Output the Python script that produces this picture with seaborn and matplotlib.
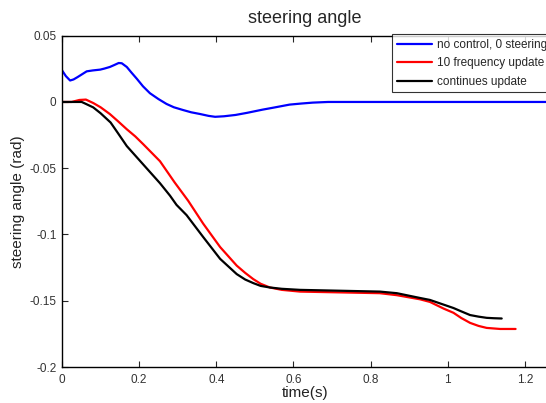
import pandas as pd
import matplotlib
matplotlib.use("Agg")
import matplotlib.pyplot as plt
import seaborn as sns

# Data

t_blue = [0, 0.01, 0.021, 0.03, 0.04, 0.064, 0.08, 0.099, 0.11, 0.124, 0.135, 0.147, 0.155,
          0.168, 0.18, 0.194, 0.21, 0.228, 0.25, 0.271, 0.29, 0.314, 0.335, 0.358, 0.38,
          0.397, 0.42, 0.45, 0.48, 0.52, 0.55, 0.59, 0.62, 0.65, 0.69, 0.8, 1.0, 1.2, 1.4]
blue = [0.0239, 0.0195, 0.0162, 0.017, 0.0187, 0.0231, 0.0238, 0.0244, 0.0252, 0.0264, 0.0278,
        0.0294, 0.0292, 0.0264, 0.0222, 0.0175, 0.0118, 0.0066, 0.0022, -0.0015, -0.004,
        -0.0061, -0.0078, -0.0091, -0.0105, -0.0112, -0.0108, -0.0098, -0.0082, -0.0058, -0.0042,
        -0.002, -0.0012, -0.0005, 0.0, 0.0, 0.0, 0.0, 0.0]

t_red = [0, 0.025, 0.045, 0.062, 0.081, 0.1, 0.124, 0.145, 0.168, 0.19, 0.211, 0.254, 0.292,
         0.327, 0.366, 0.41, 0.453, 0.475, 0.496, 0.515, 0.539, 0.57, 0.617, 0.824, 0.868,
         0.928, 0.954, 0.99, 1.015, 1.035, 1.058, 1.08, 1.101, 1.136, 1.176]
red = [0, 0.0, 0.0015, 0.0018, -0.0008, -0.004, -0.0091, -0.0145, -0.0206, -0.026, -0.032,
       -0.0447, -0.0607, -0.0745, -0.0918, -0.1095, -0.1235, -0.129, -0.1337, -0.1372, -0.14,
       -0.1418, -0.1431, -0.1443, -0.1458, -0.1489, -0.1509, -0.156, -0.1591, -0.163, -0.1667,
       -0.169, -0.1705, -0.1713, -0.1713]

t_black = [0, 0.04, 0.051, 0.06, 0.081, 0.1, 0.126, 0.145, 0.168, 0.211, 0.254, 0.28, 0.297,
           0.323, 0.366, 0.41, 0.453, 0.475, 0.496, 0.515, 0.539, 0.57, 0.617, 0.824, 0.868,
           0.928, 0.954, 0.98, 1.015, 1.035, 1.058, 1.08, 1.101, 1.12, 1.14]
black = [0, 0, 0, -0.0012, -0.0041, -0.0085, -0.0155, -0.0235, -0.0333, -0.0473, -0.0613,
         -0.0707, -0.0777, -0.0854, -0.1019, -0.1184, -0.1299, -0.134, -0.1367, -0.1388, -0.14,
         -0.141, -0.1418, -0.1431, -0.1443, -0.1479, -0.1494, -0.152, -0.1555, -0.158, -0.1608,
         -0.162, -0.1629, -0.1632, -0.1634]

labels = ["no control, 0 steering", "10 frequency update", "continues update"]
colors = ["#0000ff", "#ff0000", "#000000"]

x_ticks = [0, 0.2, 0.4, 0.6, 0.8, 1, 1.2]
x_tick_labels = ["0", "0.2", "0.4", "0.6", "0.8", "1", "1.2"]
y_ticks = [0.05, 0, -0.05, -0.1, -0.15, -0.2]
y_tick_labels = ["0.05", "0", "-0.05", "-0.1", "-0.15", "-0.2"]

df = pd.concat([
    pd.DataFrame({"time": t_blue, "angle": blue, "series": labels[0]}),
    pd.DataFrame({"time": t_red, "angle": red, "series": labels[1]}),
    pd.DataFrame({"time": t_black, "angle": black, "series": labels[2]}),
])

sns.set_style("ticks")
plt.rcParams['font.family'] = ['Liberation Sans', 'DejaVu Sans']

W, H = 546, 403
fig = plt.figure(figsize=(W / 100, H / 100), dpi=100)
# axes reach the right edge of the image, as in the reference
x0, x1 = 62, 548
y0, y1 = 35.7, 367
ax = fig.add_axes([x0 / W, 1 - y1 / H, (x1 - x0) / W, (y1 - y0) / H])

sns.lineplot(data=df, x="time", y="angle", hue="series", palette=colors,
             hue_order=labels, sort=False, estimator=None, linewidth=1.6,
             legend=False, ax=ax)

ax.set_xlim(0, (x1 - x0) / 385.7)
ax.set_ylim(-0.2, 0.05)
ax.set_xticks(x_ticks)
ax.set_xticklabels(x_tick_labels)
ax.set_yticks(y_ticks)
ax.set_yticklabels(y_tick_labels)
ax.tick_params(direction="in", length=4, width=0.8, labelsize=8.5,
               labelcolor="#333333", top=True, right=False)
ax.tick_params(axis="x", pad=5)
ax.tick_params(axis="y", pad=4)
for sp in ax.spines.values():
    sp.set_linewidth(1.0)
    sp.set_color("black")

ax.set_title("steering angle", fontsize=13, pad=9)
ax.set_xlabel("time(s)", fontsize=11, color="#222222", labelpad=0)
ax.set_ylabel("steering angle (rad)", fontsize=11, color="#222222", labelpad=3)

leg = ax.legend(ax.lines, labels, loc="upper left",
                bbox_to_anchor=(392 / W, 1 - 34 / H), bbox_transform=fig.transFigure,
                fontsize=8.5, frameon=True, fancybox=False, handlelength=3.0,
                handletextpad=0.4, borderpad=0.4, labelspacing=0.55,
                borderaxespad=0)
leg.get_frame().set_edgecolor("black")
leg.get_frame().set_linewidth(0.8)

fig.savefig("out.png", dpi=100)
